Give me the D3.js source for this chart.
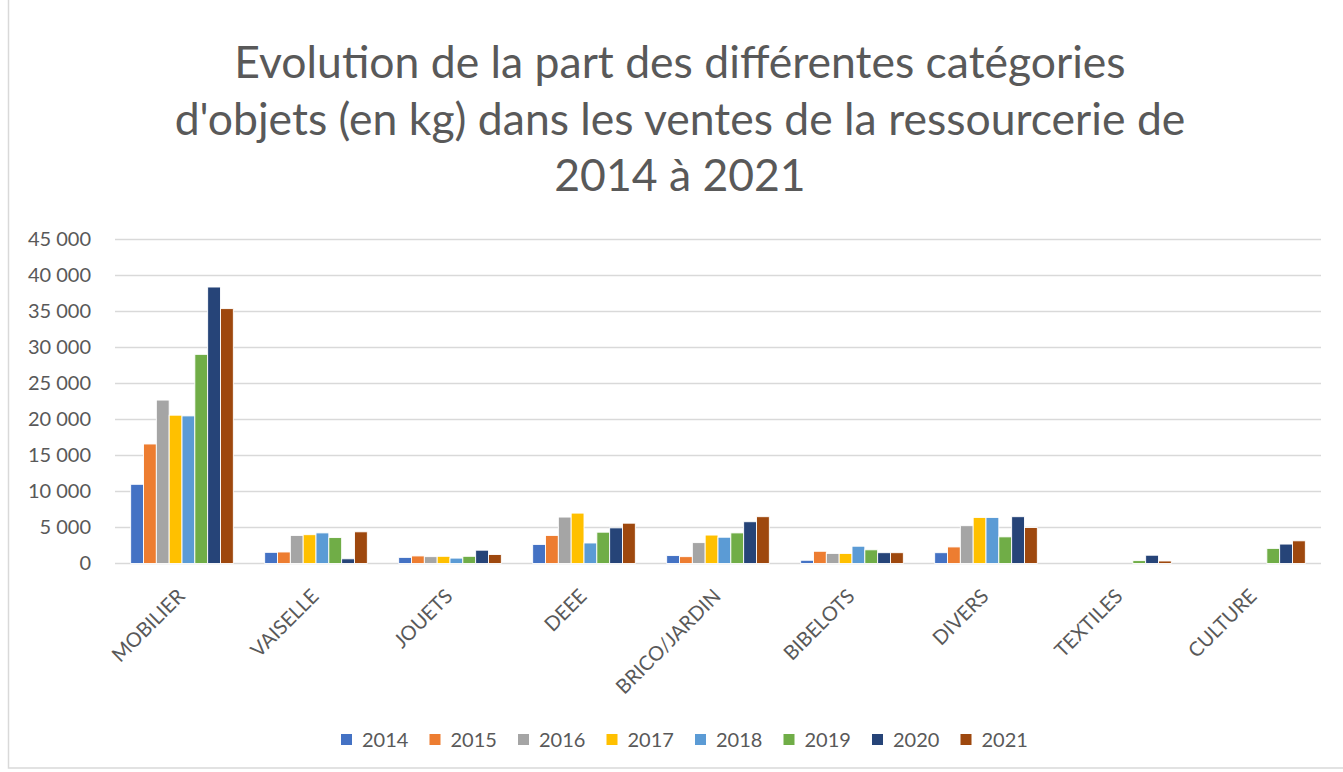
<!DOCTYPE html>
<html>
<head>
<meta charset="utf-8">
<script src="https://cdn.jsdelivr.net/npm/d3@7"></script>
<style>
  body { margin: 0; background: #fff; }
  svg text { font-family: Lato, "Liberation Sans", sans-serif; fill: #595959; }
</style>
</head>
<body>
<svg id="chart" width="1343" height="772"></svg>
<script>
var categories = ["MOBILIER", "VAISELLE", "JOUETS", "DEEE", "BRICO/JARDIN", "BIBELOTS", "DIVERS", "TEXTILES", "CULTURE"];
var years = ["2014", "2015", "2016", "2017", "2018", "2019", "2020", "2021"];
var colors = ["#4472C4", "#ED7D31", "#A5A5A5", "#FFC000", "#5B9BD5", "#70AD47", "#264478", "#9E480E"];

// kg per year, one array per category (order of years)
var mobilier   = [11000, 16600, 22700, 20600, 20500, 29050, 38400, 35400];
var vaiselle   = [1550, 1600, 3900, 4000, 4250, 3600, 650, 4400];
var jouets     = [850, 1050, 950, 1000, 750, 1000, 1850, 1250];
var deee       = [2650, 3900, 6450, 7000, 2850, 4350, 4950, 5600];
var bricoJardin = [1100, 950, 2900, 3950, 3650, 4250, 5800, 6500];
var bibelots   = [450, 1700, 1400, 1400, 2400, 1900, 1500, 1500];
var divers     = [1500, 2300, 5250, 6400, 6400, 3700, 6500, 5000];
var textiles   = [null, null, null, null, null, 400, 1150, 350];
var culture    = [null, null, null, null, null, 2100, 2700, 3150];
var series = [mobilier, vaiselle, jouets, deee, bricoJardin, bibelots, divers, textiles, culture];

var yTicks = [0, 5000, 10000, 15000, 20000, 25000, 30000, 35000, 40000, 45000];
var titleLines = ["Evolution de la part des différentes catégories",
                  "d'objets (en kg) dans les ventes de la ressourcerie de",
                  "2014 à 2021"];

var svg = d3.select("#chart");
var plotLeft = 115, plotRight = 1321, plotTop = 239.5, plotBottom = 563.5;

// outer chart border (only the left edge shows in the frame)
svg.append("rect")
  .attr("x", 8.5).attr("y", -2)
  .attr("width", 1400).attr("height", 770)
  .attr("fill", "none").attr("stroke", "#d9d9d9").attr("stroke-width", 1.5);

// title
svg.append("g").selectAll("text")
  .data(titleLines).enter().append("text")
  .attr("x", 680)
  .attr("y", function (d, i) { return 78 + i * 56.5; })
  .attr("text-anchor", "middle")
  .style("font-size", "44.5px")
  .text(function (d) { return d; });

var y = d3.scaleLinear().domain([0, 45000]).range([plotBottom, plotTop]);
var x0 = d3.scaleBand().domain(categories).range([plotLeft, plotRight]).paddingInner(0.234).paddingOuter(0.117);
var x1 = d3.scaleBand().domain(years).range([0, x0.bandwidth()]);

// gridlines
svg.append("g").selectAll("line")
  .data(yTicks).enter().append("line")
  .attr("x1", plotLeft).attr("x2", plotRight)
  .attr("y1", function (d) { return y(d); })
  .attr("y2", function (d) { return y(d); })
  .attr("stroke", "#d9d9d9").attr("stroke-width", 1.5);

// y axis labels
var fmt = function (d) { return d3.format(",")(d).replace(/,/g, " "); };
var yAxis = d3.axisLeft(y).tickValues(yTicks).tickFormat(fmt).tickSize(0).tickPadding(24);
var yg = svg.append("g").attr("transform", "translate(" + plotLeft + ",0)").call(yAxis);
yg.select(".domain").remove();
yg.selectAll("text").style("font-size", "20px").style("font-family", null).attr("fill", null);

// bars
var groups = svg.append("g").selectAll("g")
  .data(categories).enter().append("g")
  .attr("transform", function (d) { return "translate(" + x0(d) + ",0)"; });

groups.selectAll("rect")
  .data(function (d, i) {
    return series[i].map(function (v, j) { return { year: years[j], value: v, color: colors[j] }; })
      .filter(function (e) { return e.value != null; });
  })
  .enter().append("rect")
  .attr("x", function (d) { return x1(d.year); })
  .attr("y", function (d) { return y(d.value); })
  .attr("width", x1.bandwidth())
  .attr("height", function (d) { return plotBottom - y(d.value); })
  .attr("fill", function (d) { return d.color; })
  .attr("stroke", "#fff").attr("stroke-width", 0.9);

// x axis labels (rotated)
var xAxis = d3.axisBottom(x0).tickSize(0).tickPadding(0);
var xg = svg.append("g").attr("transform", "translate(0," + plotBottom + ")").call(xAxis);
xg.select(".domain").remove();
xg.selectAll("text")
  .style("font-size", "20px").style("font-family", null).attr("fill", null)
  .attr("text-anchor", "end")
  .attr("dy", null)
  .attr("transform", "translate(4,34) rotate(-45)");

// legend
var legend = svg.append("g").selectAll("g")
  .data(years).enter().append("g")
  .attr("transform", function (d, i) { return "translate(" + (341 + i * 88.5) + ",734)"; });
legend.append("rect")
  .attr("width", 11).attr("height", 11)
  .attr("fill", function (d, i) { return colors[i]; });
legend.append("text")
  .attr("x", 21).attr("y", 12.5)
  .style("font-size", "20px")
  .text(function (d) { return d; });
</script>
</body>
</html>
